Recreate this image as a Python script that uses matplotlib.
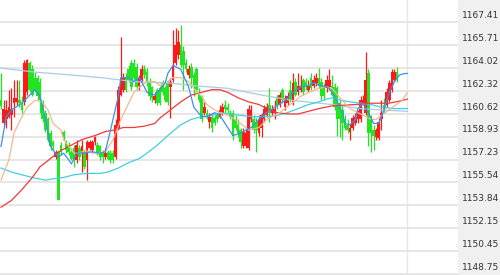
import matplotlib
matplotlib.use('Agg')
import matplotlib.pyplot as plt
import numpy as np

# candle data
opens = [1161.6, 1159.9, 1160.2, 1160.4, 1160.5, 1161.4, 1161.5, 1161.6, 1161.4, 1161.5,
         1162.2, 1164.4, 1163.9, 1163.3, 1163.3, 1163.0, 1161.4, 1160.7, 1160.2, 1159.2,
         1158.5, 1157.4, 1157.8, 1158.3, 1159.3, 1158.5, 1158.3, 1157.8, 1158.1, 1157.2,
         1158.1, 1157.7, 1157.7, 1157.2, 1158.1, 1157.9, 1158.5, 1158.3, 1158.2, 1157.8,
         1157.4, 1157.8, 1157.7, 1157.7, 1157.4, 1159.6, 1162.0, 1162.4, 1163.3, 1163.9,
         1164.4, 1164.4, 1164.1, 1162.7, 1163.1, 1163.9, 1163.7, 1163.0, 1162.6, 1161.6,
         1162.4, 1162.5, 1162.9, 1162.5, 1162.9, 1162.6, 1163.1, 1164.4, 1165.0, 1165.7,
         1165.3, 1164.4, 1163.5, 1164.1, 1163.5, 1163.9, 1162.2, 1161.9, 1160.7, 1160.7,
         1160.0, 1160.4, 1160.3, 1160.5, 1160.4, 1160.7, 1161.3, 1161.1, 1160.7, 1160.7,
         1160.2, 1159.8, 1159.4, 1158.2, 1158.2, 1158.1, 1160.2, 1160.2, 1160.0, 1159.2,
         1159.6, 1160.2, 1160.5, 1161.3, 1160.7, 1160.7, 1161.8, 1161.3, 1162.4, 1161.1,
         1161.4, 1162.4, 1161.5, 1163.0, 1162.2, 1162.4, 1163.1, 1163.0, 1162.4, 1163.3,
         1162.7, 1162.9, 1163.3, 1163.0, 1162.6, 1162.5, 1162.6, 1162.7, 1162.6, 1162.5,
         1161.4, 1160.9, 1160.2, 1159.8, 1159.3, 1159.6, 1159.9, 1160.2, 1160.2, 1161.4,
         1160.7, 1163.6, 1160.2, 1159.4, 1158.9, 1158.8, 1160.2, 1161.3, 1161.3, 1161.6,
         1162.4, 1163.1, 1163.7]
highs = [1163.6, 1161.6, 1161.6, 1162.4, 1162.5, 1163.1, 1163.1, 1163.1, 1161.9, 1164.6,
         1164.7, 1164.5, 1164.2, 1163.7, 1163.5, 1163.3, 1161.6, 1160.9, 1160.4, 1159.4,
         1158.7, 1157.9, 1157.9, 1158.5, 1159.4, 1158.7, 1158.5, 1158.1, 1158.3, 1158.7,
         1158.3, 1158.7, 1157.9, 1158.7, 1158.7, 1158.7, 1159.0, 1158.5, 1158.3, 1157.9,
         1158.1, 1157.9, 1157.9, 1157.9, 1160.2, 1162.7, 1166.3, 1163.6, 1163.6, 1164.2,
         1164.6, 1164.7, 1164.4, 1163.5, 1164.2, 1164.2, 1164.0, 1163.3, 1162.7, 1162.2,
         1162.5, 1162.7, 1163.1, 1162.7, 1163.1, 1163.3, 1166.8, 1167.0, 1166.8, 1167.2,
         1165.6, 1164.7, 1164.2, 1164.4, 1163.7, 1164.1, 1162.5, 1162.0, 1161.5, 1161.0,
         1160.7, 1160.7, 1160.5, 1160.7, 1161.3, 1161.4, 1161.6, 1161.4, 1160.9, 1160.9,
         1160.5, 1160.2, 1159.6, 1159.6, 1159.6, 1161.3, 1161.3, 1160.5, 1160.3, 1160.5,
         1160.7, 1161.3, 1161.4, 1162.5, 1161.3, 1161.6, 1162.0, 1162.2, 1162.5, 1162.0,
         1162.2, 1163.1, 1163.6, 1163.3, 1163.6, 1163.5, 1163.3, 1163.3, 1163.1, 1163.6,
         1163.5, 1163.6, 1164.0, 1163.3, 1162.9, 1163.5, 1163.9, 1163.5, 1162.9, 1162.7,
         1161.6, 1161.3, 1160.5, 1160.2, 1159.9, 1160.5, 1160.7, 1160.9, 1161.9, 1162.0,
         1165.2, 1163.9, 1160.5, 1159.8, 1159.6, 1160.3, 1161.6, 1161.8, 1162.5, 1163.1,
         1163.9, 1163.9, 1164.1]
lows = [1161.0, 1159.8, 1159.6, 1160.3, 1159.4, 1160.4, 1161.3, 1161.1, 1160.7, 1161.3,
        1162.0, 1162.2, 1161.9, 1162.2, 1161.6, 1160.7, 1160.0, 1159.3, 1158.5, 1157.9,
        1157.9, 1157.3, 1154.2, 1157.6, 1158.7, 1157.7, 1157.6, 1157.2, 1156.7, 1157.0,
        1157.2, 1156.3, 1156.5, 1155.7, 1157.9, 1157.7, 1158.3, 1157.6, 1157.2, 1157.0,
        1157.3, 1157.2, 1157.0, 1157.0, 1157.3, 1159.4, 1161.9, 1162.2, 1162.2, 1163.0,
        1162.4, 1163.1, 1162.4, 1162.4, 1163.0, 1163.3, 1162.7, 1161.6, 1161.5, 1161.4,
        1161.3, 1161.3, 1162.0, 1161.5, 1161.3, 1160.3, 1163.0, 1164.2, 1164.7, 1164.1,
        1162.4, 1163.7, 1163.3, 1162.5, 1161.9, 1162.2, 1161.5, 1160.0, 1160.5, 1160.2,
        1159.6, 1159.3, 1159.8, 1160.0, 1160.3, 1160.5, 1160.7, 1160.7, 1160.2, 1158.7,
        1159.4, 1158.9, 1158.1, 1158.1, 1158.1, 1157.9, 1160.0, 1159.2, 1157.8, 1159.0,
        1158.9, 1160.0, 1160.4, 1160.0, 1160.5, 1160.2, 1161.0, 1161.1, 1161.4, 1160.9,
        1161.3, 1161.5, 1161.3, 1161.9, 1162.0, 1162.2, 1162.0, 1162.4, 1162.2, 1162.4,
        1162.5, 1162.7, 1162.5, 1161.6, 1161.6, 1162.2, 1162.4, 1161.9, 1160.9, 1159.0,
        1158.9, 1158.7, 1159.4, 1159.2, 1158.7, 1159.4, 1159.8, 1159.9, 1160.0, 1161.3,
        1160.5, 1158.2, 1157.8, 1157.9, 1158.7, 1158.7, 1159.4, 1160.7, 1161.1, 1161.5,
        1162.2, 1163.0, 1163.0]
closes = [1161.2, 1161.0, 1160.9, 1161.1, 1161.0, 1161.8, 1161.8, 1161.4, 1160.9, 1164.4,
          1164.6, 1162.4, 1162.0, 1162.4, 1161.9, 1161.6, 1160.2, 1159.4, 1158.7, 1158.2,
          1158.2, 1157.8, 1154.2, 1157.8, 1158.9, 1157.9, 1157.8, 1157.3, 1157.2, 1158.3,
          1157.4, 1158.2, 1156.7, 1158.5, 1158.5, 1158.5, 1158.9, 1157.7, 1157.4, 1157.4,
          1157.7, 1157.3, 1157.2, 1157.2, 1159.8, 1162.4, 1163.3, 1163.3, 1162.4, 1163.1,
          1162.6, 1163.3, 1162.6, 1163.3, 1163.9, 1163.5, 1162.9, 1161.9, 1161.8, 1161.9,
          1161.4, 1161.4, 1162.2, 1161.6, 1161.5, 1163.0, 1164.1, 1165.7, 1165.9, 1164.2,
          1164.2, 1163.9, 1163.9, 1163.3, 1162.7, 1162.4, 1161.6, 1160.2, 1161.1, 1160.4,
          1160.4, 1159.6, 1159.9, 1160.2, 1160.9, 1161.1, 1161.0, 1160.9, 1160.4, 1159.0,
          1159.6, 1159.2, 1158.5, 1159.3, 1159.2, 1161.0, 1160.9, 1159.4, 1159.4, 1160.2,
          1160.5, 1161.0, 1161.1, 1160.7, 1161.0, 1161.0, 1161.3, 1162.0, 1161.6, 1161.8,
          1161.9, 1161.6, 1162.9, 1162.0, 1162.7, 1162.7, 1162.2, 1162.6, 1162.7, 1162.5,
          1163.1, 1163.3, 1162.7, 1161.9, 1161.9, 1163.1, 1163.1, 1162.0, 1161.1, 1160.2,
          1160.2, 1159.9, 1159.6, 1159.4, 1159.6, 1160.3, 1160.4, 1160.7, 1161.6, 1161.6,
          1163.1, 1159.2, 1159.2, 1159.0, 1159.4, 1160.0, 1160.7, 1161.0, 1162.2, 1162.9,
          1163.7, 1163.7, 1163.1]

# moving average lines: (candle index, price)
ma5_x = [0, 2, 4, 8, 12, 13, 15, 17, 19, 22, 24, 26, 27, 29, 31, 35, 38, 40, 42, 45,
         46, 49, 51, 53, 55, 56, 59, 61, 63, 64, 66, 69, 72, 74, 77, 79, 82, 84, 87, 89,
         92, 96, 100, 102, 105, 109, 112, 115, 118, 120, 123, 126, 128, 131, 132, 134, 136, 137, 139, 141,
         143, 145, 147, 149, 151, 153, 155, 156]
ma5_y = [1158.2, 1160.4, 1160.9, 1161.4, 1162.2, 1162.4, 1161.9, 1160.2, 1158.2, 1157.4,
         1157.7, 1157.2, 1156.9, 1157.7, 1157.7, 1157.8, 1157.7, 1157.8, 1159.4, 1161.9,
         1163.3, 1163.3, 1163.0, 1163.3, 1162.6, 1162.2, 1162.0, 1162.4, 1162.9, 1163.6,
         1164.2, 1163.9, 1162.6, 1161.1, 1160.4, 1160.4, 1160.7, 1160.5, 1159.6, 1159.0,
         1159.2, 1159.6, 1160.4, 1160.7, 1161.1, 1161.6, 1162.2, 1162.6, 1162.7, 1162.9,
         1162.7, 1162.5, 1161.9, 1160.7, 1159.9, 1159.8, 1160.2, 1161.0, 1161.4, 1160.7,
         1159.9, 1159.9, 1160.9, 1162.2, 1163.0, 1163.5, 1163.6, 1163.6]

ma10_x = [0, 3, 5, 8, 10, 13, 14, 16, 18, 20, 23, 24, 26, 28, 30, 32, 36, 40, 43, 46,
          49, 51, 54, 56, 59, 61, 64, 66, 69, 72, 74, 77, 79, 82, 84, 87, 89, 92, 95, 99,
          102, 105, 107, 111, 115, 118, 122, 125, 127, 131, 134, 137, 139, 142, 144, 146, 149, 151, 154, 156]
ma10_y = [1155.7, 1157.2, 1159.2, 1160.4, 1161.1, 1161.6, 1161.6, 1161.4, 1160.9, 1159.9,
          1159.4, 1158.7, 1158.2, 1157.7, 1157.7, 1157.9, 1157.7, 1157.8, 1158.7, 1160.2,
          1161.4, 1162.2, 1162.7, 1163.0, 1163.0, 1162.7, 1163.0, 1163.3, 1163.3, 1163.0,
          1162.5, 1161.9, 1161.3, 1160.9, 1160.7, 1160.5, 1160.3, 1159.9, 1159.4, 1159.6,
          1160.2, 1160.5, 1160.7, 1161.3, 1161.9, 1162.2, 1162.5, 1162.6, 1162.5, 1161.6,
          1161.0, 1160.7, 1160.5, 1160.2, 1160.2, 1160.5, 1160.9, 1161.2, 1161.6, 1162.2]

ma20_x = [0, 4, 8, 12, 15, 19, 23, 27, 31, 36, 40, 43, 47, 51, 55, 59, 61, 65, 69, 73,
          77, 81, 84, 87, 91, 95, 99, 102, 106, 110, 114, 118, 122, 127, 136, 142, 149, 154, 156]
ma20_y = [1153.7, 1154.2, 1155.0, 1155.9, 1156.7, 1157.3, 1157.9, 1158.3, 1158.7, 1159.0,
          1159.3, 1159.4, 1159.6, 1159.6, 1159.7, 1159.9, 1160.3, 1160.9, 1161.5, 1162.0,
          1162.2, 1162.4, 1162.4, 1162.2, 1161.8, 1161.5, 1161.3, 1161.0, 1160.7, 1160.6,
          1160.6, 1160.8, 1161.0, 1161.2, 1161.3, 1161.4, 1161.4, 1161.6, 1161.7]

ma60_x = [0, 4, 8, 12, 17, 20, 24, 28, 33, 38, 41, 45, 49, 53, 56, 60, 64, 69, 73, 77,
          81, 84, 88, 92, 97, 102, 106, 110, 114, 118, 122, 125, 127, 131, 134, 138, 142, 146, 151, 156]
ma60_y = [1156.6, 1156.3, 1156.1, 1155.9, 1155.7, 1155.8, 1155.9, 1156.1, 1156.2, 1156.2,
          1156.3, 1156.6, 1157.0, 1157.3, 1157.7, 1158.3, 1159.0, 1159.8, 1160.2, 1160.4,
          1160.5, 1160.7, 1160.6, 1160.5, 1160.4, 1160.4, 1160.5, 1160.7, 1161.0, 1161.3,
          1161.5, 1161.7, 1161.8, 1161.6, 1161.5, 1161.4, 1161.3, 1161.1, 1161.0, 1161.0]

ma120_x = [0, 13, 26, 38, 51, 64, 74, 87, 100, 112, 127, 138, 146, 156]
ma120_y = [1164.0, 1163.7, 1163.5, 1163.3, 1163.0, 1162.9, 1162.7, 1162.5, 1162.0, 1161.6,
           1161.3, 1161.0, 1160.9, 1160.8]

ticks = [1148.75, 1150.45, 1152.15, 1153.84, 1155.54, 1157.23,
         1158.93, 1160.62, 1162.32, 1164.02, 1165.71, 1167.41]

fig = plt.figure(figsize=(5, 2.75), dpi=100, facecolor='#f0f0f0')
ax = fig.add_axes([0, 0, 458 / 500, 1])
ax.set_facecolor('white')
ax.set_xlim(-0.4, 175.4)
ax.set_ylim(1148.68, 1169.04)
ax.set_xticks([])
ax.set_yticks([])
for s in ax.spines.values():
    s.set_visible(False)

for t in ticks:
    ax.axhline(t, color='#e4e4e4', lw=1.3, zorder=0)
    ax.annotate(f'{t:.2f}', xy=(1, t), xycoords=('axes fraction', 'data'),
                xytext=(2.5, 1.5), textcoords='offset points', va='bottom', ha='left',
                fontsize=6.5, color='#333333', annotation_clip=False)
ax.axvline(155.9, color='#e6e6e6', lw=1.0, zorder=0)

o = np.array(opens)
c = np.array(closes)
hi = np.maximum(np.array(highs), np.maximum(o, c))
lo = np.minimum(np.array(lows), np.minimum(o, c))
idx = np.arange(len(o))
colors = np.where(c >= o, '#ff1a1a', '#1fe61f')

ax.vlines(idx, lo, hi, colors=colors, lw=0.9, zorder=2)
ax.bar(idx, np.maximum(np.abs(c - o), 0.1), bottom=np.minimum(o, c),
       width=1.0, color=colors, zorder=3)

ax.plot(ma120_x, ma120_y, color='#a9cce6', lw=0.9, zorder=4)
ax.plot(ma60_x, ma60_y, color='#40cfe0', lw=0.9, zorder=4)
ax.plot(ma20_x, ma20_y, color='#f03a3a', lw=0.9, zorder=4)
ax.plot(ma10_x, ma10_y, color='#f2b98f', lw=0.9, zorder=5)
ax.plot(ma5_x, ma5_y, color='#3d8ff0', lw=0.9, zorder=6)

fig.savefig('out.png', dpi=100, facecolor=fig.get_facecolor())
